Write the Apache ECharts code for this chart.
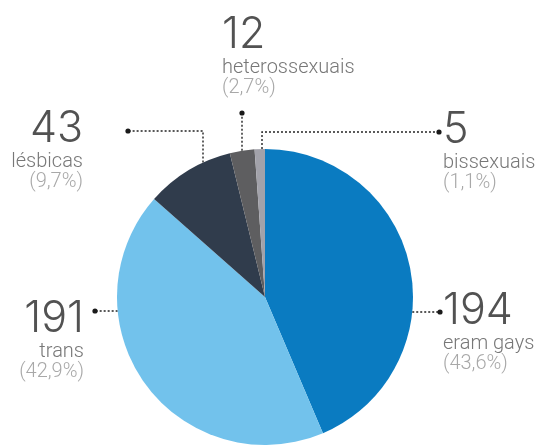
<!DOCTYPE html>
<html>
<head>
<meta charset="utf-8">
<script src="https://cdn.jsdelivr.net/npm/echarts@6/dist/echarts.min.js"></script>
<style>
  html, body { margin: 0; padding: 0; background: #fff; }
  #chart { width: 543px; height: 446px; }
</style>
</head>
<body>
<div id="chart"></div>
<script>
// Vítimas por orientação sexual / identidade de gênero
const categories = ['eram gays', 'trans', 'lésbicas', 'heterossexuais', 'bissexuais'];
const counts = [194, 191, 43, 12, 5];

// slice colours, same order as the categories
const palette = ['#0a7bc1', '#72c2ec', '#303c4c', '#5e5e60', '#a2a2aa'];

// pie geometry (pixels)
const CX = 265, CY = 297, R = 148;

// leader-line layout per slice: dot position, optional elbow, and where the text block starts
const leaders = [
  { dot: [440, 312], mode: 'h', text: [443, 289], align: 'left' },
  { dot: [95, 311], mode: 'h', text: [84, 297], align: 'right' },
  { dot: [128, 131], mode: 'elbow', elbowX: 203, text: [83, 107], align: 'right' },
  { dot: [242, 113], mode: 'v', text: [222, 13], align: 'left' },
  { dot: [439, 132], mode: 'elbow', elbowX: 262, text: [443, 108], align: 'left' }
];

function edgeX(y, side) {
  const dy = y - CY;
  return CX + side * Math.sqrt(R * R - dy * dy);
}
function edgeY(x) {
  const dx = x - CX;
  return CY - Math.sqrt(R * R - dx * dx);
}

function linePoints(i) {
  const L = leaders[i];
  const [dx, dy] = L.dot;
  if (L.mode === 'h') {
    const side = dx > CX ? 1 : -1;
    const ex = edgeX(dy, side);
    return [[ex, dy], [(ex + dx) / 2, dy], [dx, dy]];
  }
  if (L.mode === 'v') {
    const ey = edgeY(dx);
    return [[dx, ey], [dx, (ey + dy) / 2], [dx, dy]];
  }
  const ey = edgeY(L.elbowX);
  return [[L.elbowX, ey], [L.elbowX, dy], [dx, dy]];
}

const total = counts.reduce((a, b) => a + b, 0);
const fmtPct = v => '(' + (v / total * 100).toFixed(1).replace('.', ',') + '%)';

const chart = echarts.init(document.getElementById('chart'), null, { renderer: 'canvas' });

chart.setOption({
  backgroundColor: '#ffffff',
  animation: false,
  graphic: leaders.map(L => ({
    type: 'circle',
    shape: { cx: L.dot[0], cy: L.dot[1], r: 2.6 },
    style: { fill: '#1a1a1a' },
    z: 10
  })),
  series: [{
    type: 'pie',
    center: [CX, CY],
    radius: [0, R],
    startAngle: 90,
    clockwise: true,
    silent: true,
    itemStyle: { borderWidth: 0 },
    data: categories.map((name, i) => ({
      name,
      value: counts[i],
      itemStyle: { color: palette[i] }
    })),
    label: {
      show: true,
      position: 'outside',
      overflow: 'none',
      formatter: p => '{num|' + p.value + '}\n{name|' + p.name + '}\n{pct|' + fmtPct(p.value) + '}',
      rich: {
        num: { fontFamily: 'Inter', fontWeight: 300, fontSize: 43, lineHeight: 44, color: '#525252' },
        name: { fontFamily: 'Roboto', fontWeight: 300, fontSize: 20, lineHeight: 21, color: '#777777' },
        pct: { fontFamily: 'Roboto', fontWeight: 300, fontSize: 20, lineHeight: 20, color: '#a8a8a8' }
      }
    },
    labelLine: {
      show: true,
      length: 10,
      length2: 10,
      lineStyle: { color: '#222222', width: 1.4, type: [2, 2] }
    },
    labelLayout: params => {
      const L = leaders[params.dataIndex];
      return {
        x: L.text[0],
        y: L.text[1],
        align: L.align,
        verticalAlign: 'top',
        labelLinePoints: linePoints(params.dataIndex)
      };
    }
  }]
});
</script>
</body>
</html>
